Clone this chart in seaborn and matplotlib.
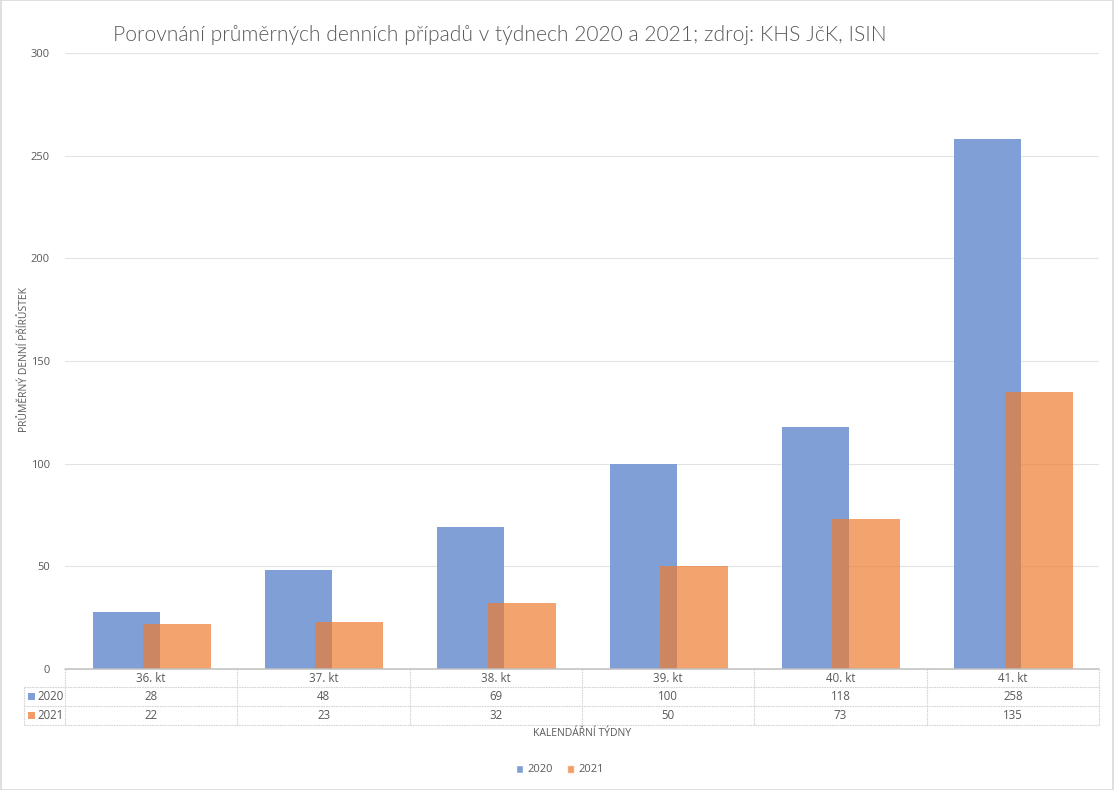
import matplotlib
matplotlib.use("Agg")
import matplotlib.pyplot as plt
import matplotlib.transforms as mtransforms
from matplotlib.patches import Patch, Rectangle
from matplotlib import font_manager
import seaborn as sns
import numpy as np
import pandas as pd

weeks = ["36. kt", "37. kt", "38. kt", "39. kt", "40. kt", "41. kt"]
vals_2020 = [28, 48, 69, 100, 118, 258]
vals_2021 = [22, 23, 32, 50, 73, 135]
series = ["2020", "2021"]
yticks = [0, 50, 100, 150, 200, 250, 300]

title = "Porovnání průměrných denních případů v týdnech 2020 a 2021; zdroj: KHS JčK, ISIN"
ylabel = "PRŮMĚRNÝ DENNÍ PŘÍRŮSTEK"
xlabel = "KALENDÁŘNÍ TÝDNY"

c2020 = "#7F9FD6"
c2021 = "#ED7D31"
txt = "#595959"
grid = "#E3E3E3"
tline = "#D4D4D4"

sns.set_theme(style="white")
plt.rcParams['font.family'] = ['Open Sans', 'DejaVu Sans']

# pick a light font for the title if one is installed
light_font = None
for f in font_manager.fontManager.ttflist:
    if f.name in ("Open Sans", "Lato", "Roboto", "Noto Sans") and f.weight in (200, 300, "light", "extra-light"):
        light_font = f.fname
        break
if light_font is None:
    for f in font_manager.fontManager.ttflist:
        if "Light" in f.fname and ("OpenSans" in f.fname or "Lato" in f.fname or "Roboto" in f.fname):
            light_font = f.fname
            break

W, H = 1114, 790
fig = plt.figure(figsize=(W / 100, H / 100), dpi=100)
fig.patch.set_facecolor("white")
fig.patches.append(Rectangle((0.0005, 0.0005), 0.999, 0.999, transform=fig.transFigure,
                             fill=False, edgecolor="#D9D9D9", linewidth=1.2))

L, R, T, B = 65, 1099, 53, 669
ax = fig.add_axes([L / W, 1 - B / H, (R - L) / W, (B - T) / H])

n = len(weeks)
idx = np.arange(n)
df1 = pd.DataFrame({"x": idx - 0.145, "y": vals_2020})
df2 = pd.DataFrame({"x": idx + 0.15, "y": vals_2021})
sns.barplot(data=df1, x="x", y="y", native_scale=True, width=0.39, color=c2020,
            saturation=1, ax=ax, linewidth=0, edgecolor="none")
sns.barplot(data=df2, x="x", y="y", native_scale=True, width=0.395, color=c2021,
            saturation=1, ax=ax, linewidth=0, edgecolor="none", alpha=0.7)

ax.set_xlim(-0.5, n - 0.5)
ax.set_ylim(0, 300)
ax.set_yticks(yticks)
ax.set_yticklabels([str(t) for t in yticks], color=txt, fontsize=8)
ax.tick_params(axis="y", length=0, pad=11)
ax.set_xticks([])
ax.set_xlabel("")
ax.set_ylabel("")
for s in ax.spines.values():
    s.set_visible(False)
ax.set_axisbelow(True)
for t in yticks[1:]:
    ax.axhline(t, color=grid, linewidth=0.8, zorder=0)

# data table drawn below axes (x in data units, y in axes fraction)
tr = mtransforms.blended_transform_factory(ax.transData, ax.transAxes)
px_per_cat = (R - L) / n
ah = B - T
def yf(py):
    return (B - py) / ah
y_rows = [yf(669), yf(687), yf(706), yf(725)]
x_left = -0.5 - 41 / px_per_cat
x_right = n - 0.5
kw = dict(transform=tr, clip_on=False, color=tline, linewidth=0.8, linestyle=(0, (1.5, 0.8)))
for j, yy in enumerate(y_rows):
    if j == 0:
        continue
    ax.plot([x_left, x_right], [yy, yy], **kw)
for k in range(n + 1):
    ax.plot([-0.5 + k, -0.5 + k], [y_rows[0], y_rows[3]], **kw)
ax.plot([x_left, x_left], [y_rows[1], y_rows[3]], **kw)
ax.plot([-0.5, x_right], [y_rows[0], y_rows[0]], transform=tr, clip_on=False,
        color="#BFBFBF", linewidth=1.1)

row_vals = [vals_2020, vals_2021]
for i, w in enumerate(weeks):
    ax.text(i, (y_rows[0] + y_rows[1]) / 2, w, transform=tr, ha="center", va="center",
            fontsize=8.3, color=txt)
    for r in range(2):
        ax.text(i, (y_rows[r + 1] + y_rows[r + 2]) / 2, str(row_vals[r][i]), transform=tr,
                ha="center", va="center", fontsize=8.3, color=txt)
sq_w = 7 / px_per_cat
sq_h = 7 / ah
for r, (lab, col, al) in enumerate(zip(series, [c2020, c2021], [1.0, 0.75])):
    yc = (y_rows[r + 1] + y_rows[r + 2]) / 2
    ax.add_patch(Rectangle((x_left + 4 / px_per_cat, yc - sq_h / 2), sq_w, sq_h,
                           transform=tr, clip_on=False, facecolor=col, edgecolor="none", alpha=al))
    ax.text(x_left + 13 / px_per_cat, yc, lab, transform=tr, ha="left", va="center",
            fontsize=8.3, color=txt)

if light_font:
    tprops = dict(fontproperties=font_manager.FontProperties(fname=light_font, size=15.1))
else:
    tprops = dict(fontsize=15.1, fontweight="light")
fig.text(500 / W, 1 - 35 / H, title, ha="center", va="center", color=txt, **tprops)
fig.text(25 / W, 1 - 360 / H, ylabel, rotation=90, ha="center", va="center",
         fontsize=7.5, color=txt)
fig.text(582 / W, 1 - 734 / H, xlabel, ha="center", va="center", fontsize=7.5, color=txt)

handles = [Patch(facecolor=c2020, label="2020"), Patch(facecolor=c2021, alpha=0.75, label="2021")]
fig.legend(handles=handles, loc="center", bbox_to_anchor=(560 / W, 1 - 770 / H), ncol=2,
           frameon=False, fontsize=8, handlelength=0.7, handleheight=0.7,
           handletextpad=0.4, columnspacing=1.2, labelcolor=txt)

fig.savefig("out.png", dpi=100, facecolor="white")
